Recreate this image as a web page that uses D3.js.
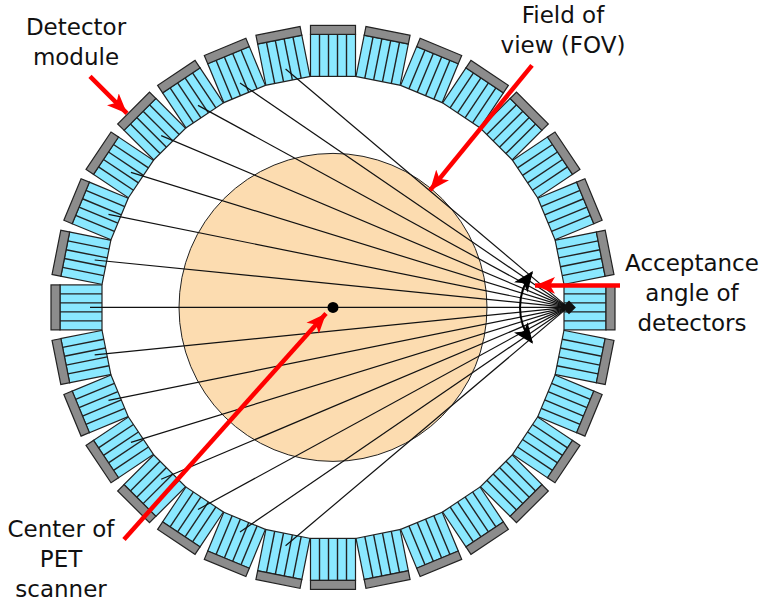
<!DOCTYPE html>
<meta charset="utf-8">
<head>
  <title>PET scanner</title>
  <script src="https://d3js.org/d3.v7.min.js"></script>
  <style>
    html, body { margin: 0; padding: 0; background: #fff; }
    svg { display: block; }
    text { font-family: "DejaVu Sans", sans-serif; font-size: 23px; fill: #111; text-anchor: middle; }
  </style>
</head>
<body>
  <svg width="760" height="601"></svg>
  <script>
    const width = 760;
    const height = 601;

    // module centre angles, degrees, clockwise from the +x axis
    const moduleAngles = [0, 11.25, 22.5, 33.75, 45, 56.25, 67.5, 78.75, 90, 101.25, 112.5, 123.75, 135, 146.25, 157.5, 168.75,
      180, 191.25, 202.5, 213.75, 225, 236.25, 247.5, 258.75, 270, 281.25, 292.5, 303.75, 315, 326.25, 337.5, 348.75];
    // modules hit by a line of response from the detector on the right
    const lorAngles = [101.25, 112.5, 123.75, 135, 146.25, 157.5, 168.75, 180, 191.25, 202.5, 213.75, 225, 236.25, 247.5, 258.75];
    // crystal boundaries across one module
    const crystalEdges = [-22.5, -13.5, -4.5, 4.5, 13.5, 22.5];

    const rInner = 231, rCrystal = 273, rBack = 282, rLorEnd = 243, rFov = 154;
    const source = [235, 0];

    const arrows = [
      { from: [-243, -231], to: [-206, -194] },
      { from: [199, -242], to: [97, -117] },
      { from: [287, -22], to: [202, -22] },
      { from: [-209, 232], to: [-7, 6] }
    ];
    const labels = [
      { x: 76, y: 35, lines: ["Detector", "module"] },
      { x: 563, y: 23, lines: ["Field of", "view (FOV)"] },
      { x: 692, y: 271, lines: ["Acceptance", "angle of", "detectors"] },
      { x: 61, y: 537, lines: ["Center of", "PET", "scanner"] }
    ];

    const svg = d3.select("svg");
    // scanner coordinates, origin on the centre of the ring
    const x = d3.scaleLinear().domain([-333, width - 333]).range([0, width]);
    const y = d3.scaleLinear().domain([-307.4, height - 307.4]).range([0, height]);
    const g = svg.append("g");

    const defs = svg.append("defs");
    defs.append("marker").attr("id", "red").attr("viewBox", "0 0 12 10").attr("refX", 12).attr("refY", 5)
      .attr("markerUnits", "userSpaceOnUse").attr("markerWidth", 20).attr("markerHeight", 17).attr("orient", "auto")
      .append("path").attr("d", "M0,0L12,5L0,10L3,5Z").attr("fill", "#ff0000");

    // FOV
    g.append("circle").attr("cx", x(0)).attr("cy", y(0)).attr("r", rFov)
      .attr("fill", "#fcdcb0").attr("stroke", "#222").attr("stroke-width", 1);

    // detector modules
    const modules = g.selectAll("g.module").data(moduleAngles).enter().append("g")
      .attr("class", "module")
      .attr("transform", d => `translate(${x(0)},${y(0)}) rotate(${d})`);
    modules.append("rect").attr("x", rInner).attr("y", crystalEdges[0])
      .attr("width", rCrystal - rInner).attr("height", 45)
      .attr("fill", "#8ae8ff").attr("stroke", "#222").attr("stroke-width", 1.2);
    modules.append("rect").attr("x", rCrystal).attr("y", crystalEdges[0])
      .attr("width", rBack - rCrystal).attr("height", 45)
      .attr("fill", "#8c8c8c").attr("stroke", "#222").attr("stroke-width", 1.2);
    modules.selectAll("line").data(crystalEdges.slice(1, -1)).enter().append("line")
      .attr("x1", rInner).attr("x2", rCrystal).attr("y1", d => d).attr("y2", d => d)
      .attr("stroke", "#222").attr("stroke-width", 1.4);

    // lines of response
    const rad = d => d * Math.PI / 180;
    g.selectAll("line.lor").data(lorAngles).enter().append("line")
      .attr("class", "lor")
      .attr("x1", x(source[0])).attr("y1", y(source[1]))
      .attr("x2", d => x(rLorEnd * Math.cos(rad(d))))
      .attr("y2", d => y(rLorEnd * Math.sin(rad(d))))
      .attr("stroke", "#111").attr("stroke-width", 1.2);

    // source point on the detector
    g.append("path").attr("d", d3.symbol(d3.symbolDiamond2, 120))
      .attr("transform", `translate(${x(236)},${y(0)})`).attr("fill", "#111");

    // centre of scanner
    g.append("circle").attr("cx", x(0)).attr("cy", y(0)).attr("r", 5.5).attr("fill", "#000");

    // acceptance arc
    defs.append("marker").attr("id", "black").attr("viewBox", "0 0 12 10").attr("refX", 11).attr("refY", 5)
      .attr("markerUnits", "userSpaceOnUse").attr("markerWidth", 21).attr("markerHeight", 17).attr("orient", "auto")
      .append("path").attr("d", "M0,0L12,5L0,10L3,5Z").attr("fill", "#000");
    g.append("path")
      .attr("d", `M${x(187)},${y(0)}Q${x(187)},${y(-19)} ${x(199)},${y(-35)}`)
      .attr("fill", "none").attr("stroke", "#000").attr("stroke-width", 2).attr("marker-end", "url(#black)");
    g.append("path")
      .attr("d", `M${x(187)},${y(0)}Q${x(187)},${y(19)} ${x(199)},${y(35)}`)
      .attr("fill", "none").attr("stroke", "#000").attr("stroke-width", 2).attr("marker-end", "url(#black)");

    // red arrows
    g.selectAll("line.arrow").data(arrows).enter().append("line")
      .attr("class", "arrow")
      .attr("x1", d => x(d.from[0])).attr("y1", d => y(d.from[1]))
      .attr("x2", d => x(d.to[0])).attr("y2", d => y(d.to[1]))
      .attr("stroke", "#ff0000").attr("stroke-width", 4.5).attr("marker-end", "url(#red)");

    // labels
    const label = svg.selectAll("text").data(labels).enter().append("text")
      .attr("y", d => d.y);
    label.selectAll("tspan").data(d => d.lines.map((t, i) => ({ t, i, x: d.x }))).enter().append("tspan")
      .attr("x", d => d.x).attr("dy", d => d.i ? 30 : 0).text(d => d.t);
  </script>
</body>
